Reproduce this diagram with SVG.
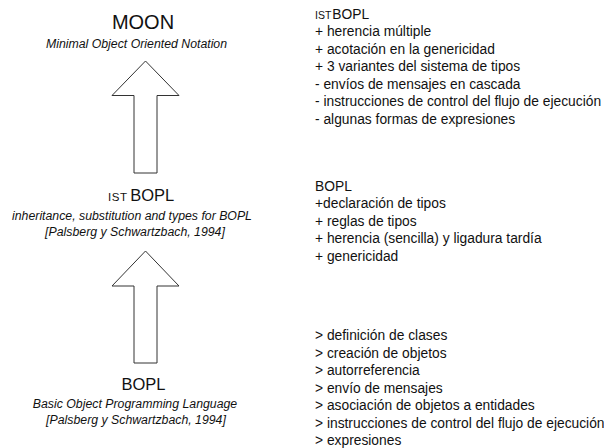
<svg xmlns="http://www.w3.org/2000/svg" width="604" height="448" viewBox="0 0 604 448">
<style>
text{font-family:"Liberation Sans",Arial,sans-serif;fill:#111}
.title{font-size:20px;text-anchor:middle}
.name{font-size:16.5px}
.sc{font-size:11.5px}
.sub{font-size:12.3px;font-style:italic;text-anchor:middle}
.list{font-size:13.8px}
.arrow{fill:#fff;stroke:#333;stroke-width:1}
</style>
<rect width="604" height="448" fill="#fff"/>
<g id="moon">
<text class="title" x="143" y="29">MOON</text>
<text class="sub" x="136.5" y="48">Minimal Object Oriented Notation</text>
</g>
<g id="istbopl">
<text x="108" y="201"><tspan class="sc" letter-spacing="0.6">IST</tspan><tspan class="name" dx="2.5">BOPL</tspan></text>
<text class="sub" x="132" y="220">inheritance, substitution and types for BOPL</text>
<text class="sub" x="135" y="236">[Palsberg y Schwartzbach, 1994]</text>
</g>
<g id="bopl">
<text class="name" x="143.5" y="390" text-anchor="middle">BOPL</text>
<text class="sub" x="135" y="408">Basic Object Programming Language</text>
<text class="sub" x="136" y="424">[Palsberg y Schwartzbach, 1994]</text>
</g>
<g id="connectors">
<polygon class="arrow" points="145.5,61 179,95.5 157,95.5 157,173 134,173 134,95.5 112,95.5"/>
<polygon class="arrow" points="145.5,251 179,286 157,286 157,363 134,363 134,286 112,286"/>
</g>
<g id="notes-moon" class="list">
<text x="315" y="18.5"><tspan font-size="10.5">IST</tspan><tspan dx="1">BOPL</tspan></text>
<text x="315" y="36">+ herencia múltiple</text>
<text x="315" y="53.5">+ acotación en la genericidad</text>
<text x="315" y="71">+ 3 variantes del sistema de tipos</text>
<text x="315" y="88.5">- envíos de mensajes en cascada</text>
<text x="315" y="106">- instrucciones de control del flujo de ejecución</text>
<text x="315" y="123.5">- algunas formas de expresiones</text>
</g>
<g id="notes-istbopl" class="list">
<text x="315" y="190.5">BOPL</text>
<text x="315" y="208">+declaración de tipos</text>
<text x="315" y="225.5">+ reglas de tipos</text>
<text x="315" y="243">+ herencia (sencilla) y ligadura tardía</text>
<text x="315" y="260.5">+ genericidad</text>
</g>
<g id="notes-bopl" class="list">
<text x="315" y="340">> definición de clases</text>
<text x="315" y="357.5">> creación de objetos</text>
<text x="315" y="375">> autorreferencia</text>
<text x="315" y="392.5">> envío de mensajes</text>
<text x="315" y="410">> asociación de objetos a entidades</text>
<text x="315" y="427.5">> instrucciones de control del flujo de ejecución</text>
<text x="315" y="445">> expresiones</text>
</g>
</svg>
